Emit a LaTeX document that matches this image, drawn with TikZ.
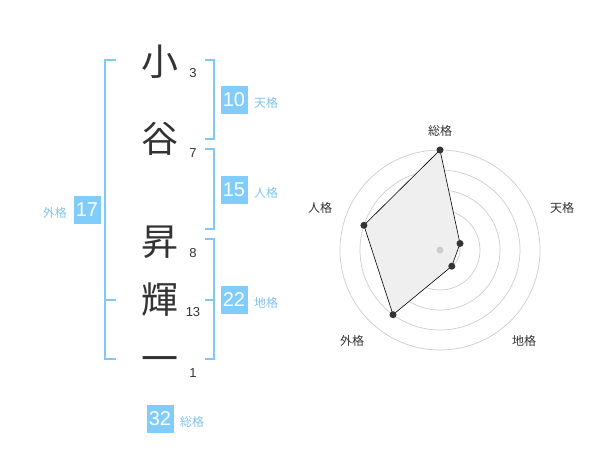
\documentclass[tikz,border=0pt]{standalone}
\usepackage{fontspec}
\newfontfamily\cjk{Noto Sans CJK JP}
\newfontfamily\numf{Liberation Sans}
\definecolor{brk}{HTML}{80C8F8}
\definecolor{boxc}{HTML}{80CCFA}
\definecolor{lblc}{HTML}{80C4EE}
\definecolor{ink}{HTML}{333333}
\definecolor{ring}{HTML}{CCCCCC}
\definecolor{poly}{HTML}{EFEFEF}
\tikzset{
  bigch/.style={font=\cjk\fontsize{37}{37}\selectfont, text=ink, inner sep=0pt},
  strk/.style={font=\numf\fontsize{13}{13}\selectfont, text=ink, inner sep=0pt},
  valbox/.style={fill=boxc, text=white, font=\numf\fontsize{20}{20}\selectfont, minimum width=27pt, minimum height=28pt, inner sep=0pt},
  vallbl/.style={font=\cjk\fontsize{12}{12}\selectfont, text=lblc, inner sep=0pt},
  brack/.style={draw=brk, line width=2pt},
  ringst/.style={draw=ring, line width=0.7pt},
  axlbl/.style={font=\cjk\fontsize{12}{12}\selectfont, text=ink, inner sep=0pt},
  dot/.style={circle, fill=ink, inner sep=0pt, minimum size=7pt},
}
\begin{document}
\begin{tikzpicture}[x=1pt,y=-1pt]
\useasboundingbox (0,0) rectangle (600,470);
% characters
\node[bigch] (c1) at (160,62) {小};
\node[bigch] (c2) at (160,139) {谷};
\node[bigch] (c3) at (160,242) {昇};
\node[bigch] (c4) at (160,300) {輝};
\node[bigch] (c5) at (160,365) {一};
% strokes
\node[strk] (s1) at (193,73) {3};
\node[strk] (s2) at (193,153) {7};
\node[strk] (s3) at (193,253) {8};
\node[strk] (s4) at (193,312) {13};
\node[strk] (s5) at (193,373) {1};
% brackets
\draw[brack] (116,60) -- (105,60) -- (105,359) -- (116,359);
\draw[brack] (105,300) -- (116,300);
\draw[brack] (205,60) -- (214,60) -- (214,139) -- (205,139);
\draw[brack] (205,149) -- (214,149) -- (214,229) -- (205,229);
\draw[brack] (205,239) -- (214,239) -- (214,359) -- (205,359);
\draw[brack] (214,300) -- (205,300);
% values
\node[valbox] (v10) at (234,100) {10};
\node[vallbl,anchor=west] (l10) at (254,103) {天格};
\node[valbox] (v15) at (234,190) {15};
\node[vallbl,anchor=west] (l15) at (254,193) {人格};
\node[valbox] (v17) at (87,210) {17};
\node[vallbl,anchor=east] (l17) at (67,213) {外格};
\node[valbox] (v22) at (234,300) {22};
\node[vallbl,anchor=west] (l22) at (254,303) {地格};
\node[valbox] (v32) at (160,419) {32};
\node[vallbl,anchor=west] (l32) at (180,422) {総格};
% radar
\coordinate (O) at (440,250);
\foreach \r in {20,40,60,80,100} \draw[ringst] (O) circle (\r pt);
\coordinate (pS) at (440,150);
\coordinate (pT) at (460,243.5);
\coordinate (pC) at (451.8,266.2);
\coordinate (pG) at (393,314.7);
\coordinate (pJ) at (363.9,225.3);
\draw[fill=poly, draw=black, line width=0.6pt] (pS) -- (pT) -- (pC) -- (pG) -- (pJ) -- cycle;
\foreach \p in {pS,pT,pC,pG,pJ} \node[dot] (d\p) at (\p) {};
\fill[ring] (O) circle (3.5pt);
\node[axlbl] (aS) at (440,131) {総格};
\node[axlbl] (aT) at (562,208) {天格};
\node[axlbl] (aC) at (524,341) {地格};
\node[axlbl] (aG) at (352,341) {外格};
\node[axlbl] (aJ) at (320,208) {人格};
\end{tikzpicture}
\end{document}
